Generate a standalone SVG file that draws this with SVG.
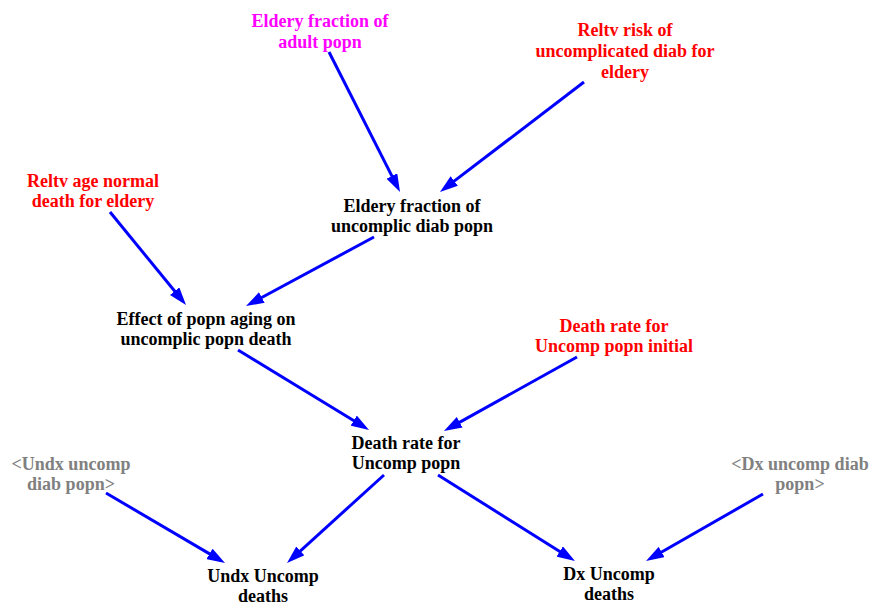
<svg xmlns="http://www.w3.org/2000/svg" width="870" height="605" viewBox="0 0 870 605">
  <style>
    text { font-family: "Liberation Serif", "Times New Roman", serif; font-size: 18px; font-weight: bold; text-anchor: middle; }
    .aux { fill: #000000; }
    .param { fill: #FF0000; }
    .input { fill: #FF00FF; }
    .shadow { fill: #808080; }
    .link { stroke: #0000FF; stroke-width: 3; fill: none; marker-end: url(#head); }
  </style>
  <defs>
    <marker id="head" markerUnits="userSpaceOnUse" markerWidth="18" markerHeight="12" viewBox="0 0 18 12" refX="8" refY="6" orient="auto">
      <path d="M0,0 L18,6 L0,12 z" fill="#0000FF"/>
    </marker>
  </defs>
  <rect width="870" height="605" fill="#FFFFFF"/>

  <g id="connectors">
    <line class="link" x1="329" y1="52" x2="395.5" y2="183.1"/>
    <line class="link" x1="584" y1="82" x2="447.9" y2="185.9"/>
    <line class="link" x1="110" y1="212" x2="179.7" y2="297.3"/>
    <line class="link" x1="374" y1="237" x2="254.8" y2="301.3"/>
    <line class="link" x1="238" y1="350" x2="360.5" y2="424.8"/>
    <line class="link" x1="577" y1="357" x2="452.7" y2="426.1"/>
    <line class="link" x1="106" y1="493" x2="216.4" y2="557.9"/>
    <line class="link" x1="384" y1="475" x2="294.4" y2="556.3"/>
    <line class="link" x1="438" y1="475" x2="566.5" y2="555.7"/>
    <line class="link" x1="763" y1="494" x2="654.7" y2="556.0"/>
  </g>

  <g id="eldery-fraction-adult">
    <text class="input" x="320" y="27">Eldery fraction of</text>
    <text class="input" x="320" y="48">adult popn</text>
  </g>
  <g id="reltv-risk-uncomplicated">
    <text class="param" x="625" y="36">Reltv risk of</text>
    <text class="param" x="625" y="57">uncomplicated diab for</text>
    <text class="param" x="625" y="78">eldery</text>
  </g>
  <g id="eldery-fraction-uncomplic">
    <text class="aux" x="412" y="212">Eldery fraction of</text>
    <text class="aux" x="412" y="232">uncomplic diab popn</text>
  </g>
  <g id="reltv-age-normal-death">
    <text class="param" x="93" y="187">Reltv age normal</text>
    <text class="param" x="93" y="207">death for eldery</text>
  </g>
  <g id="effect-popn-aging">
    <text class="aux" x="206" y="325">Effect of popn aging on</text>
    <text class="aux" x="206" y="345">uncomplic popn death</text>
  </g>
  <g id="death-rate-initial">
    <text class="param" x="614" y="332">Death rate for</text>
    <text class="param" x="614" y="352">Uncomp popn initial</text>
  </g>
  <g id="death-rate-uncomp">
    <text class="aux" x="406" y="449">Death rate for</text>
    <text class="aux" x="406" y="469">Uncomp popn</text>
  </g>
  <g id="undx-uncomp-popn">
    <text class="shadow" x="71" y="470">&lt;Undx uncomp</text>
    <text class="shadow" x="71" y="490">diab popn&gt;</text>
  </g>
  <g id="dx-uncomp-popn">
    <text class="shadow" x="800" y="470">&lt;Dx uncomp diab</text>
    <text class="shadow" x="800" y="490">popn&gt;</text>
  </g>
  <g id="undx-uncomp-deaths">
    <text class="aux" x="263" y="582">Undx Uncomp</text>
    <text class="aux" x="263" y="602">deaths</text>
  </g>
  <g id="dx-uncomp-deaths">
    <text class="aux" x="609" y="580">Dx Uncomp</text>
    <text class="aux" x="609" y="600">deaths</text>
  </g>
</svg>
